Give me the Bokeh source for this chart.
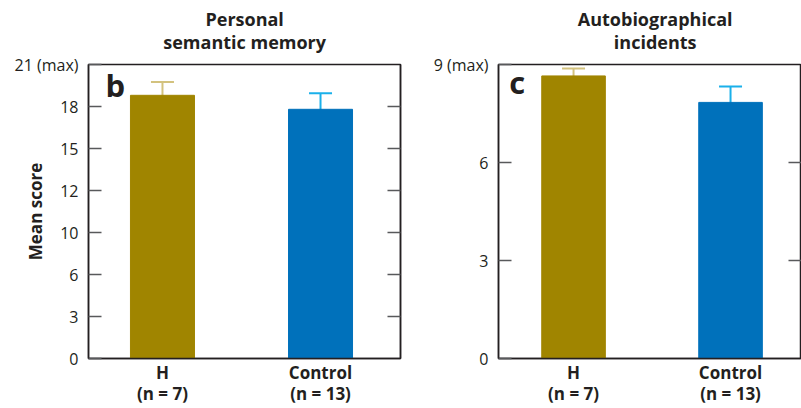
import numpy as np
from bokeh.plotting import figure
from bokeh.models import (Range1d, FixedTicker, LinearAxis, Whisker, TeeHead,
                          ColumnDataSource, Label)
from bokeh.layouts import row
from bokeh.embed import file_html
from bokeh.resources import INLINE

# ---- data ----
groups = ["H", "Control"]
group_labels = ["H\n(n = 7)", "Control\n(n = 13)"]
group_x = [0, 1]
bar_colors = ["#a08500", "#0071bb"]
err_colors = ["#d3c27e", "#1ab0ea"]

semantic_title = "Personal\nsemantic memory"
semantic_mean = [18.8, 17.8]
semantic_err = [0.95, 1.15]
semantic_ticks = [0, 3, 6, 9, 12, 15, 18, 21]
semantic_tick_labels = ["0", "3", "6", "10", "12", "15", "18", "21 (max)"]

incident_title = "Autobiographical\nincidents"
incident_mean = [8.65, 7.84]
incident_err = [0.23, 0.49]
incident_ticks = [0, 3, 6, 9]
incident_tick_labels = ["0", "3", "6", "9 (max)"]

FONT = "Open Sans"
TXT = "#231f20"
TITLE_X = 0.52   # horizontal anchor of the panel titles (data units)


def make_panel(title_text, letter, means, errs, ticks, tick_labels, ymax,
               width, bl, br, xr, letter_xy, ylabel=None):
    p = figure(width=width, height=408, output_backend="svg", toolbar_location=None,
               x_range=Range1d(*xr), y_range=Range1d(0, ymax),
               min_border_left=bl, min_border_right=br, min_border_top=64,
               min_border_bottom=50)
    p.title = None
    p.xgrid.visible = False
    p.ygrid.visible = False
    p.outline_line_color = "#231f20"
    p.outline_line_width = 1.5
    p.background_fill_color = "white"
    p.border_fill_color = "white"

    src = ColumnDataSource(dict(x=group_x, top=means, color=bar_colors))
    p.vbar(x="x", top="top", width=0.405, color="color", source=src)
    for i in range(len(groups)):
        s = ColumnDataSource(dict(base=[group_x[i]], upper=[means[i] + errs[i]],
                                  lower=[means[i] - errs[i]]))
        w = Whisker(base="base", upper="upper", lower="lower", source=s,
                    line_color=err_colors[i], line_width=2,
                    upper_head=TeeHead(size=23, line_color=err_colors[i], line_width=2),
                    lower_head=TeeHead(size=23, line_color=err_colors[i], line_width=2))
        p.add_layout(w)

    # bottom category axis
    xa = p.below[0]
    xa.ticker = FixedTicker(ticks=group_x)
    xa.major_label_overrides = {x: l for x, l in zip(group_x, group_labels)}
    xa.major_tick_in = 0
    xa.major_tick_out = 0
    xa.major_tick_line_color = None
    xa.minor_tick_line_color = None
    xa.axis_line_color = "#231f20"
    xa.axis_line_width = 1.5
    xa.major_label_text_font = FONT
    xa.major_label_text_font_size = "17px"
    xa.major_label_text_font_style = "bold"
    xa.major_label_text_color = TXT
    xa.major_label_text_line_height = 0.95
    xa.major_label_standoff = 2

    # left value axis
    ya = p.left[0]
    ya.ticker = FixedTicker(ticks=ticks)
    ya.major_label_overrides = {t: l for t, l in zip(ticks, tick_labels)}
    ya.major_tick_in = 13
    ya.major_tick_out = 0
    ya.major_tick_line_color = "#58595b"
    ya.major_tick_line_width = 1.5
    ya.minor_tick_line_color = None
    ya.axis_line_color = "#231f20"
    ya.axis_line_width = 1.5
    ya.major_label_text_font = FONT
    ya.major_label_text_font_size = "16px"
    ya.major_label_text_color = TXT
    ya.major_label_standoff = 10
    if ylabel:
        ya.axis_label = ylabel
        ya.axis_label_text_font = FONT
        ya.axis_label_text_font_size = "17px"
        ya.axis_label_text_font_style = "bold"
        ya.axis_label_text_color = TXT
        ya.axis_label_standoff = -35

    # right-side inward ticks
    ra = LinearAxis(ticker=FixedTicker(ticks=ticks[1:-1]))
    ra.major_label_overrides = {t: "" for t in ticks}
    ra.major_tick_in = 13
    ra.major_tick_out = 0
    ra.major_tick_line_color = "#58595b"
    ra.major_tick_line_width = 1.5
    ra.minor_tick_line_color = None
    ra.axis_line_color = "#231f20"
    ra.axis_line_width = 1.5
    ra.major_label_standoff = 0
    p.add_layout(ra, "right")

    # title as a centred two-line label of a bare top axis
    ta = LinearAxis(ticker=FixedTicker(ticks=[TITLE_X]))
    ta.major_label_overrides = {TITLE_X: title_text}
    ta.axis_line_color = None
    ta.major_tick_in = 0
    ta.major_tick_out = 0
    ta.major_tick_line_color = None
    ta.minor_tick_line_color = None
    ta.major_label_text_font = FONT
    ta.major_label_text_font_size = "18px"
    ta.major_label_text_font_style = "bold"
    ta.major_label_text_color = TXT
    ta.major_label_text_line_height = 0.95
    ta.major_label_standoff = 11
    p.add_layout(ta, "above")

    p.add_layout(Label(x=letter_xy[0], y=letter_xy[1], text=letter, text_font=FONT,
                       text_font_size="31px", text_font_style="bold", text_color=TXT,
                       text_baseline="alphabetic"))
    return p


p1 = make_panel(semantic_title, "b", semantic_mean, semantic_err,
                semantic_ticks, semantic_tick_labels, 21, 420, 88, 20,
                (-0.468, 1.506), (-0.36, 19.55), ylabel="Mean score")

p2 = make_panel(incident_title, "c", incident_mean, incident_err,
                incident_ticks, incident_tick_labels, 9, 381, 78, 0,
                (-0.478, 1.452), (-0.41, 8.45))

layout = row(p1, p2)
open("out.html", "w").write(file_html(layout, INLINE))
